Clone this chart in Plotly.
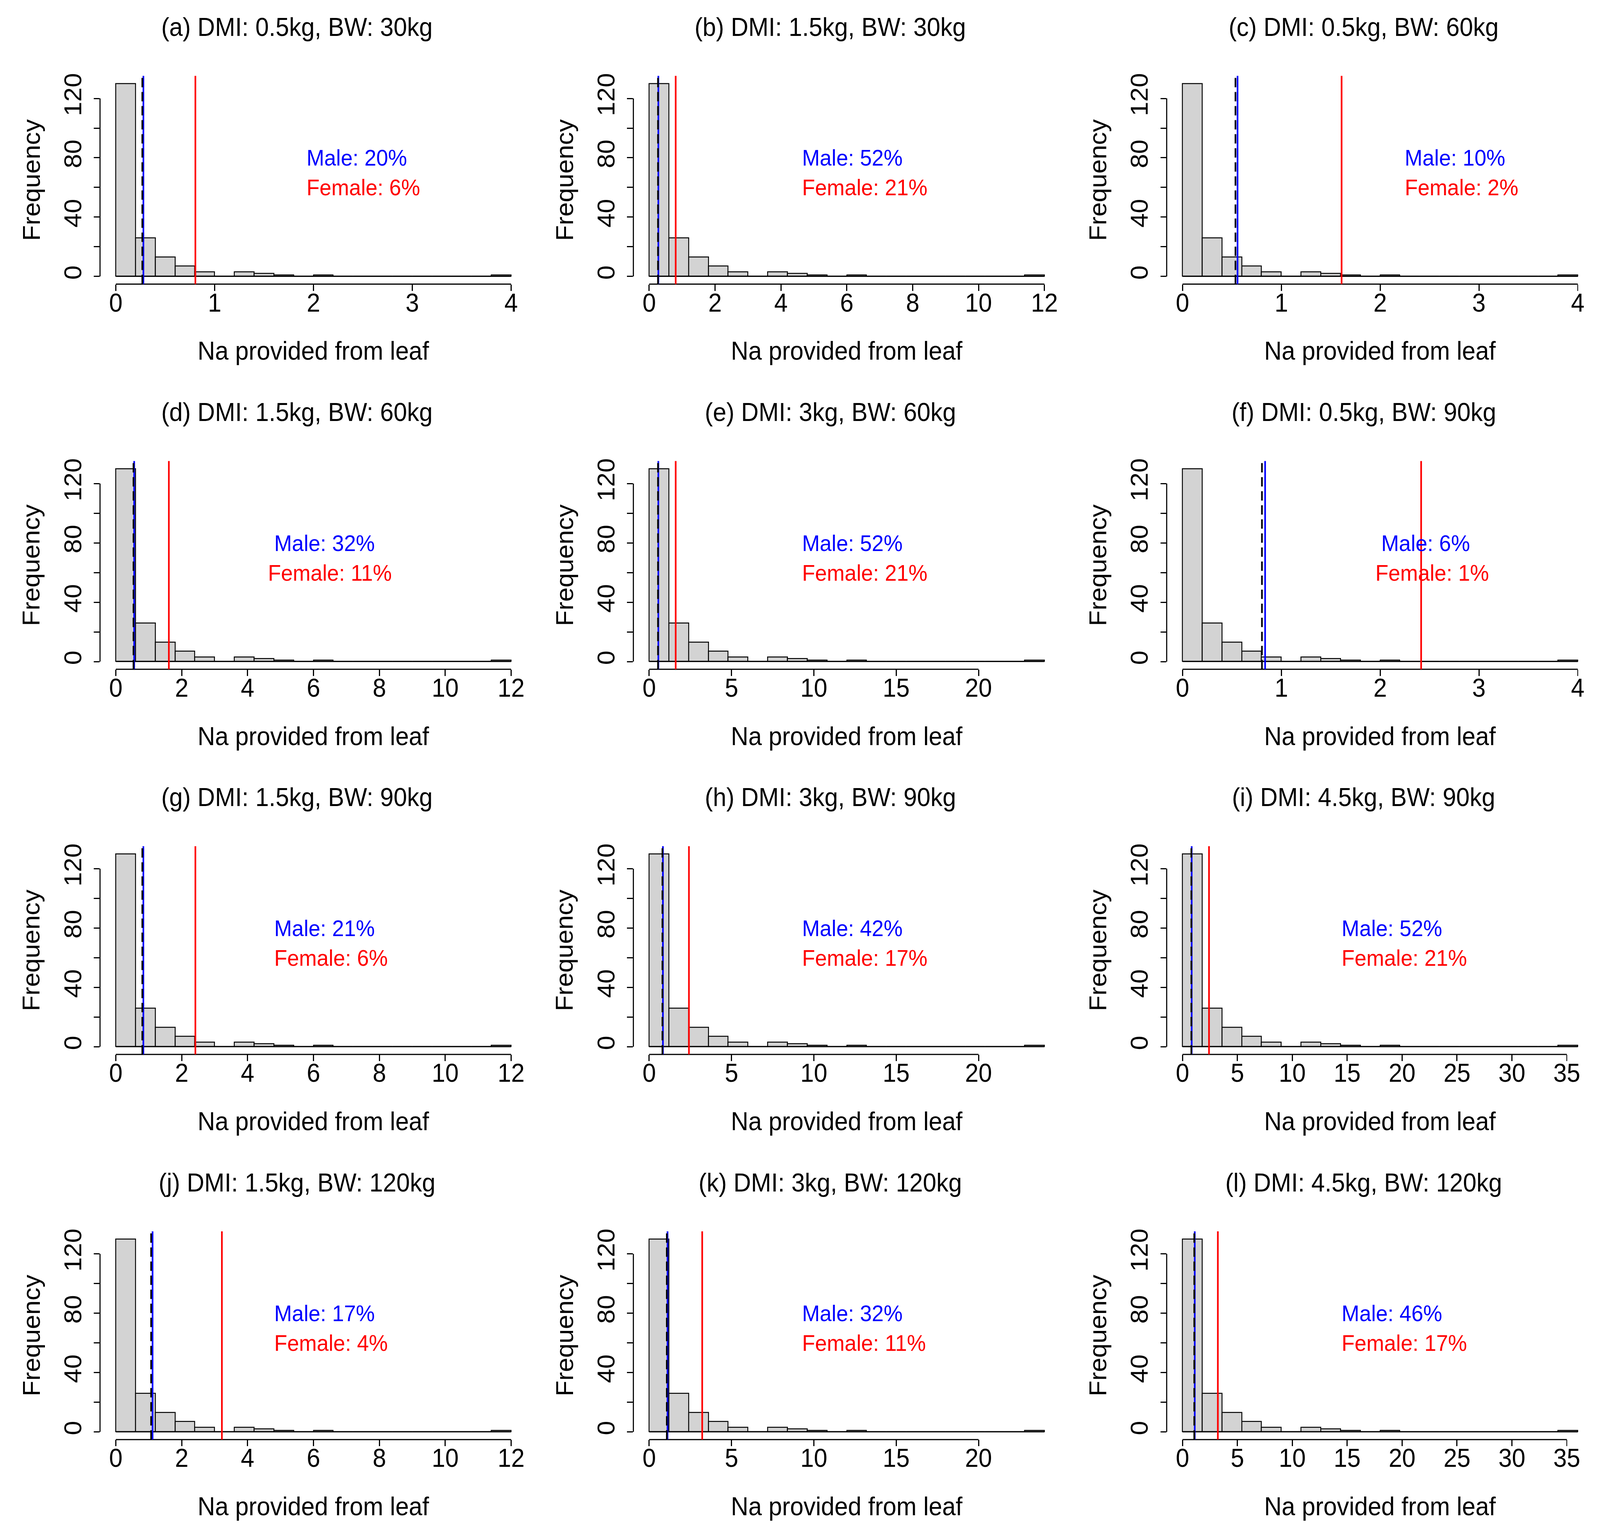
import numpy as np
import plotly.graph_objects as go

# histogram counts (20 equal bins), same sample in every panel, only the x scale changes with DMI
counts = [130, 26, 13, 7, 3, 0, 3, 2, 1, 0, 1, 0, 0, 0, 0, 0, 0, 0, 0, 1]
base_dmi = 0.5
base_bin_width = 0.2  # bin width at DMI 0.5 kg

panel_tags = ["(a)", "(b)", "(c)", "(d)", "(e)", "(f)", "(g)", "(h)", "(i)", "(j)", "(k)", "(l)"]
dmi = [0.5, 1.5, 0.5, 1.5, 3, 0.5, 1.5, 3, 4.5, 1.5, 3, 4.5]
bw = [30, 30, 60, 60, 60, 90, 90, 90, 90, 120, 120, 120]
male_pct = [20, 52, 10, 32, 52, 6, 21, 42, 52, 17, 32, 46]
female_pct = [6, 21, 2, 11, 21, 1, 6, 17, 21, 4, 11, 17]

# requirement lines by body weight
bw_levels = [30, 60, 90, 120]
male_req = [0.279, 0.557, 0.836, 1.115]
female_req = [0.805, 1.61, 2.415, 3.22]
ref_req = [0.268, 0.536, 0.804, 1.071]

# x tick values by DMI
x_ticks = {
    0.5: [0, 1, 2, 3, 4],
    1.5: [0, 2, 4, 6, 8, 10, 12],
    3: [0, 5, 10, 15, 20],
    4.5: [0, 5, 10, 15, 20, 25, 30, 35],
}
y_ticks = [0, 20, 40, 60, 80, 100, 120]
y_tick_text = ["0", "", "40", "", "80", "", "120"]

# ---- layout (pixels) ----
FIG_W, FIG_H = 4359, 3928
COL_W, ROW_H = 1453, 988
PL, PR, PT, PB = 272.5, 1435.5, 187.7, 721.8
# left edge of the percentage text, as fraction of the plot width
male_text_x = [0.482, 0.393, 0.556, 0.406, 0.393, 0.501, 0.406, 0.393, 0.408, 0.406, 0.393, 0.408]
female_text_x = [0.482, 0.393, 0.556, 0.392, 0.393, 0.487, 0.406, 0.393, 0.408, 0.406, 0.393, 0.408]

FONT = "Liberation Sans, Arial, sans-serif"
FS = 66
FS_PCT = 58

fig = go.Figure()
layout = {}
shapes = []
annotations = []

for i in range(12):
    r, c = divmod(i, 3)
    n = i + 1
    xa = "x" if n == 1 else f"x{n}"
    ya = "y" if n == 1 else f"y{n}"
    scale = dmi[i] / base_dmi
    edges = np.arange(len(counts) + 1) * base_bin_width * scale
    centers = (edges[:-1] + edges[1:]) / 2
    xmax = edges[-1]

    fig.add_trace(go.Bar(
        x=centers, y=counts, width=base_bin_width * scale,
        marker=dict(color="#d3d3d3", line=dict(color="black", width=2.5)),
        xaxis=xa, yaxis=ya, showlegend=False, hoverinfo="skip",
    ))

    x0 = (c * COL_W + PL) / FIG_W
    x1 = (c * COL_W + PR) / FIG_W
    y1 = 1 - (r * ROW_H + PT) / FIG_H
    y0 = 1 - (r * ROW_H + PB) / FIG_H

    xt = x_ticks[dmi[i]]
    layout["xaxis" if n == 1 else f"xaxis{n}"] = dict(
        domain=[x0, x1], anchor=ya, range=[-0.04 * xmax, 1.04 * xmax],
        tickvals=xt, ticktext=[str(v) for v in xt],
        ticks="outside", ticklen=16, tickwidth=3, tickcolor="black",
        ticklabelstandoff=-26,
        showgrid=False, zeroline=False, showline=False,
        tickfont=dict(family=FONT, size=FS, color="black"),
    )
    layout["yaxis" if n == 1 else f"yaxis{n}"] = dict(
        domain=[y0, y1], anchor=xa, range=[-5.2, 135.2],
        tickvals=y_ticks, ticktext=y_tick_text, tickangle=-90,
        ticks="outside", ticklen=16, tickwidth=3, tickcolor="black",
        ticklabelstandoff=8,
        showgrid=False, zeroline=False, showline=False,
        tickfont=dict(family=FONT, size=FS, color="black"),
    )

    # R style axis lines: only from first to last tick
    shapes.append(dict(type="line", xref=xa, yref=f"{ya} domain", x0=xt[0], x1=xt[-1], y0=0, y1=0,
                       line=dict(color="black", width=3)))
    shapes.append(dict(type="line", xref=f"{xa} domain", yref=ya, x0=0, x1=0, y0=y_ticks[0], y1=y_ticks[-1],
                       line=dict(color="black", width=3)))
    # empty bins drawn as baseline
    shapes.append(dict(type="line", xref=xa, yref=ya, x0=edges[0], x1=edges[-1], y0=0, y1=0,
                       line=dict(color="black", width=2.5)))

    k = bw_levels.index(bw[i])
    shapes.append(dict(type="line", xref=xa, yref=f"{ya} domain", x0=female_req[k], x1=female_req[k],
                       y0=0, y1=1, line=dict(color="red", width=4.5)))
    shapes.append(dict(type="line", xref=xa, yref=f"{ya} domain", x0=male_req[k], x1=male_req[k],
                       y0=0, y1=1, line=dict(color="blue", width=4.5)))
    shapes.append(dict(type="line", xref=xa, yref=f"{ya} domain", x0=ref_req[k], x1=ref_req[k],
                       y0=0, y1=1, line=dict(color="black", width=4.5, dash="24px,12px")))

    # texts
    annotations.append(dict(
        text=f"{panel_tags[i]} DMI: {dmi[i]:g}kg, BW: {bw[i]}kg",
        xref="paper", yref="paper", x=(c * COL_W + (PL + PR) / 2 - 45) / FIG_W,
        y=1 - (r * ROW_H + 62) / FIG_H, xanchor="center", yanchor="middle",
        showarrow=False, font=dict(family=FONT, size=FS, color="black"),
    ))
    annotations.append(dict(
        text="Na provided from leaf",
        xref="paper", yref="paper", x=(c * COL_W + (PL + PR) / 2) / FIG_W,
        y=1 - (r * ROW_H + 893) / FIG_H, xanchor="center", yanchor="middle",
        showarrow=False, font=dict(family=FONT, size=FS, color="black"),
    ))
    annotations.append(dict(
        text="Frequency", textangle=-90,
        xref="paper", yref="paper", x=(c * COL_W + 85) / FIG_W,
        y=1 - (r * ROW_H + (PT + PB) / 2) / FIG_H, xanchor="center", yanchor="middle",
        showarrow=False, font=dict(family=FONT, size=FS, color="black"),
    ))
    annotations.append(dict(
        text=f"Male: {male_pct[i]}%", xref=f"{xa} domain", yref=ya,
        x=male_text_x[i], y=80, xanchor="left", yanchor="middle",
        showarrow=False, font=dict(family=FONT, size=FS_PCT, color="blue"),
    ))
    annotations.append(dict(
        text=f"Female: {female_pct[i]}%", xref=f"{xa} domain", yref=ya,
        x=female_text_x[i], y=60, xanchor="left", yanchor="middle",
        showarrow=False, font=dict(family=FONT, size=FS_PCT, color="red"),
    ))

fig.update_layout(
    width=FIG_W, height=FIG_H,
    margin=dict(l=0, r=0, t=0, b=0),
    paper_bgcolor="white", plot_bgcolor="white",
    bargap=0, shapes=shapes, annotations=annotations,
    **layout,
)

# stretch the drawing onto the whole window when the viewport differs from the figure size
fit_js = """
var gd = document.getElementById('{plot_id}');
document.documentElement.style.margin = '0';
document.body.style.margin = '0';
document.body.style.overflow = 'hidden';
var kx = window.innerWidth / %d;
var ky = window.innerHeight / %d;
gd.style.position = 'fixed';
gd.style.left = '0px';
gd.style.top = '0px';
gd.style.transformOrigin = '0 0';
gd.style.transform = 'scale(' + kx + ',' + ky + ')';
""" % (FIG_W, FIG_H)

fig.write_html("out.html", post_script=fit_js, config={"displayModeBar": False})
